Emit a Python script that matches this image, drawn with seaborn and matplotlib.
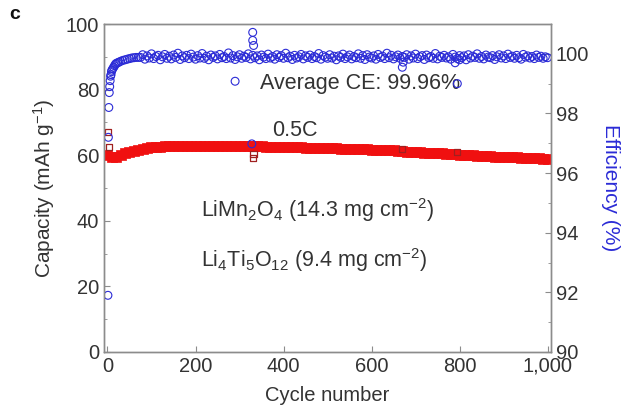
import numpy as np
import matplotlib
matplotlib.use("Agg")
import matplotlib.pyplot as plt
from matplotlib.ticker import MultipleLocator
import seaborn as sns

# capacity (mAh/g), sampled every 10 cycles
cap_cycles = np.arange(0, 1001, 10)
capacity = [
    60.0, 59.4, 59.6, 60.1, 60.6, 61.0, 61.4, 61.7, 62.0, 62.2,
    62.4, 62.5, 62.6, 62.7, 62.7, 62.8, 62.8, 62.8, 62.9, 62.9,
    62.9,
    62.9, 62.9, 62.9, 62.9, 62.8, 62.8, 62.8, 62.8, 62.8, 62.8, 62.8, 62.8, 62.7,
    62.7, 62.7, 62.6, 62.6, 62.6, 62.5, 62.5, 62.5, 62.4, 62.4, 62.4, 62.3, 62.3,
    62.3, 62.2, 62.2, 62.1, 62.1, 62.1, 62.0, 62.0, 61.9, 61.9, 61.9, 61.8, 61.8,
    61.7, 61.7, 61.6, 61.6, 61.5, 61.5, 61.4,
    61.2, 61.1, 61.0, 61.0, 60.9, 60.8, 60.8, 60.7, 60.6, 60.6, 60.5, 60.4, 60.4,
    60.2, 60.1, 60.0, 60.0, 59.9, 59.8, 59.8, 59.7, 59.6, 59.6, 59.5, 59.4, 59.4,
    59.3, 59.2, 59.2, 59.1, 59.0, 59.0, 58.9, 58.8,
]
# odd capacity points (first cycles + jumps)
cap_odd_cycles = [1, 3, 330, 332, 670, 795]
cap_odd = [67.0, 62.5, 59.2, 60.3, 61.9, 61.0]

# coulombic efficiency (%): first cycles, then every 5 cycles from 75
ce_cycles = [1, 2, 3, 4, 5, 6, 7, 8, 9, 10, 12, 14, 16, 18, 20,
             23, 26, 30, 35, 40, 45, 50, 55, 60, 65, 70] + list(range(75, 1001, 5))
efficiency = [
    91.9, 97.2, 98.2, 98.7, 98.9, 99.1, 99.25, 99.3, 99.4, 99.45,
    99.5, 99.55, 99.6, 99.65, 99.68,
    99.7, 99.72, 99.75, 99.78, 99.8, 99.82, 99.84, 99.86, 99.87, 99.88, 99.88,
    99.88, 99.97, 99.82, 99.93, 99.86, 100.00, 99.84, 99.91, 99.95, 99.80,
    99.90, 99.98, 99.85, 99.92, 99.83, 99.96, 99.88, 100.02, 99.81, 99.93,
    99.87, 99.95, 99.84, 99.99, 99.89, 99.82, 99.94, 99.86, 100.01, 99.85,
    99.92, 99.80, 99.96, 99.88, 99.93, 99.83, 99.98, 99.87, 99.91, 99.84,
    100.03, 99.86, 99.94, 99.81, 99.90, 99.97, 99.85, 99.92, 99.88, 100.00,
    99.83, 99.95, 99.87, 99.93, 99.80, 99.96, 99.89, 99.84, 99.99, 99.86,
    99.91, 99.82, 99.97, 99.88, 99.94, 99.85, 100.02, 99.87, 99.92, 99.81,
    99.95, 99.86, 99.90, 99.98, 99.83, 99.93, 99.88, 99.96, 99.84, 99.91,
    99.87, 100.01, 99.82, 99.94, 99.89, 99.85, 99.97, 99.86, 99.92, 99.80,
    99.93, 99.88, 99.99, 99.84, 99.90, 99.96, 99.83, 99.91, 99.87, 100.00,
    99.85, 99.94, 99.81, 99.97, 99.89, 99.86, 99.93, 99.82, 99.98, 99.88,
    99.92, 99.84, 100.02, 99.87, 99.95, 99.83, 99.90, 99.96, 99.85, 99.91,
    99.88, 99.97, 99.82, 99.93, 99.86, 99.99, 99.84, 99.90, 99.94, 99.81,
    99.96, 99.87, 99.91, 99.85, 100.01, 99.83, 99.92, 99.88, 99.95, 99.86,
    99.90, 99.82, 99.98, 99.89, 99.84, 99.94, 99.87, 99.93, 99.80, 99.97,
    99.86, 99.92, 99.88, 100.00, 99.85, 99.91, 99.83, 99.96, 99.89, 99.87,
    99.94, 99.81, 99.90, 99.97, 99.86, 99.93, 99.84, 99.99, 99.88, 99.92,
    99.85, 99.95, 99.87, 99.82, 99.98, 99.89, 99.93, 99.86, 99.91, 99.84,
    99.96, 99.88, 99.92, 99.85, 99.90, 99.87,
]
ce_odd_cycles = [290, 330, 330, 332, 328, 670, 672, 790, 795, 800]
ce_odd = [99.08, 100.72, 100.45, 100.28, 96.98, 99.55, 99.72, 99.70, 99.0, 99.80]

sns.set_style("ticks")
plt.rcParams["font.family"] = ["Liberation Sans", "DejaVu Sans"]
plt.rcParams["mathtext.fontset"] = "custom"
plt.rcParams["mathtext.rm"] = "Liberation Sans"
plt.rcParams["mathtext.it"] = "Liberation Sans:italic"
plt.rcParams["mathtext.bf"] = "Liberation Sans:bold"

txt = "#333333"
spine_c = "#8c8c8c"
red = "#f01010"
blue = "#2b2bd6"

fig = plt.figure(figsize=(6.43, 4.19), dpi=100)
ax = fig.add_axes([0.1617, 0.16, 0.6953, 0.7827])
ax2 = ax.twinx()

sns.scatterplot(x=cap_cycles, y=capacity, ax=ax, marker="s", s=60,
                color=red, edgecolor=red, linewidth=0.5, zorder=3)
sns.scatterplot(x=cap_odd_cycles, y=cap_odd, ax=ax, marker="s", s=20,
                facecolor="none", edgecolor="#a02020", linewidth=0.9, zorder=3)

sns.scatterplot(x=ce_cycles, y=efficiency, ax=ax2, marker="o", s=32,
                facecolor="none", edgecolor=blue, linewidth=0.8)
sns.scatterplot(x=ce_odd_cycles, y=ce_odd, ax=ax2, marker="o", s=32,
                facecolor="none", edgecolor=blue, linewidth=0.8)

ax.set_xlim(-8, 1008)
ax.set_ylim(0, 100)
ax2.set_ylim(90, 101)

ax.set_xticks([0, 200, 400, 600, 800, 1000])
ax.set_xticklabels(["0", "200", "400", "600", "800", "1,000"])
ax.yaxis.set_major_locator(MultipleLocator(20))
ax.yaxis.set_minor_locator(MultipleLocator(10))
ax2.yaxis.set_major_locator(MultipleLocator(2))
ax2.yaxis.set_minor_locator(MultipleLocator(1))

for a in (ax, ax2):
    for sp in a.spines.values():
        sp.set_color(spine_c)
        sp.set_linewidth(1.0)
        sp.set_visible(True)
    a.tick_params(which="both", direction="in", colors=spine_c,
                  labelcolor=txt, labelsize=14.5)
    a.tick_params(which="major", length=4)
    a.tick_params(which="minor", length=2.5)

ax.set_xlabel("Cycle number", fontsize=14.5, color=txt, labelpad=7)
ax.set_ylabel("Capacity (mAh g$^{-1}$)", fontsize=15, color=txt, labelpad=6)
ax2.set_ylabel("Efficiency (%)", fontsize=15, color=blue, rotation=270,
               labelpad=22)

ax.text(346, 82, "Average CE: 99.96%", fontsize=15.5, color=txt, va="center")
ax.text(374, 67.5, "0.5C", fontsize=15.5, color=txt, va="center")
ax.text(212, 43.3, "LiMn$_2$O$_4$ (14.3 mg cm$^{-2}$)", fontsize=15.5,
        color=txt, va="center")
ax.text(212, 28, "Li$_4$Ti$_5$O$_{12}$ (9.4 mg cm$^{-2}$)", fontsize=15.5,
        color=txt, va="center")

fig.text(0.014, 0.955, "c", fontsize=14, fontweight="bold", color="#111111")

fig.savefig("out.png", dpi=100)
